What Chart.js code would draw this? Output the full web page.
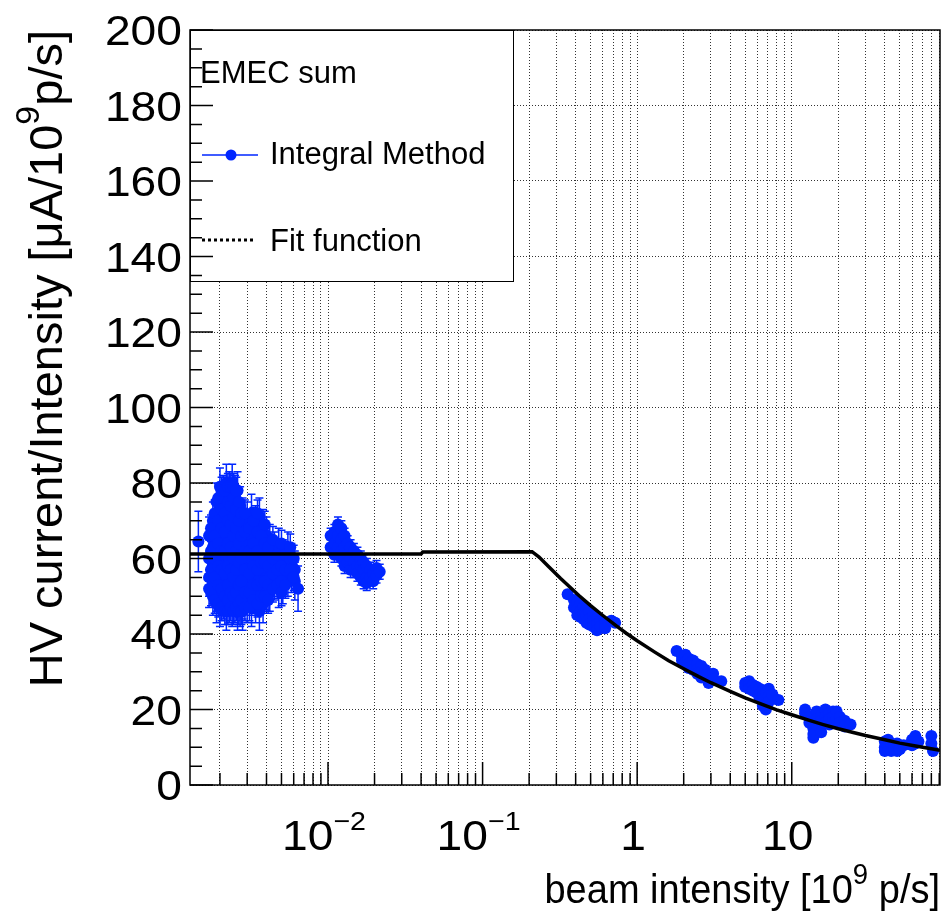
<!DOCTYPE html>
<html>
<head>
<meta charset="utf-8">
<script src="https://cdn.jsdelivr.net/npm/chart.js@4.4.1/dist/chart.umd.min.js"></script>
<style>
  html, body { margin: 0; padding: 0; background: #fff; }
  canvas { display: block; }
</style>
</head>
<body>
<canvas id="hvChart" width="946" height="918"></canvas>
<script>
// beam intensity [10^9 p/s] of each measurement (one line = one group of nearby points)
var beamX = [
  0.00145,
  0.0017, 0.0017, 0.0017, 0.0017,
  0.0018, 0.0018, 0.0018, 0.0018, 0.0018,
  0.0019, 0.0019, 0.0019, 0.0019, 0.0019, 0.0019,
  0.002, 0.002, 0.002, 0.002, 0.002, 0.002, 0.002,
  0.0021, 0.0021, 0.0021, 0.0021, 0.0021, 0.0021,
  0.0022, 0.0022, 0.0022, 0.0022, 0.0022, 0.0022, 0.0022,
  0.0023, 0.0023, 0.0023, 0.0023, 0.0023, 0.0023,
  0.0024, 0.0024, 0.0024, 0.0024, 0.0024, 0.0024, 0.0024,
  0.0025, 0.0025, 0.0025, 0.0025, 0.0025, 0.0025,
  0.0026, 0.0026, 0.0026, 0.0026, 0.0026, 0.0026, 0.0026,
  0.0027, 0.0027, 0.0027, 0.0027, 0.0027, 0.0027,
  0.0028, 0.0028, 0.0028, 0.0028, 0.0028, 0.0028,
  0.003, 0.003, 0.003, 0.003, 0.003,
  0.0032, 0.0032, 0.0032, 0.0032, 0.0032, 0.0032,
  0.0034, 0.0034, 0.0034, 0.0034, 0.0034,
  0.0036, 0.0036, 0.0036, 0.0036, 0.0036, 0.0036,
  0.0038, 0.0038, 0.0038, 0.0038, 0.0038,
  0.004, 0.004, 0.004, 0.004,
  0.0042, 0.0042, 0.0042, 0.0042,
  0.0045, 0.0045, 0.0045,
  0.0048, 0.0048, 0.0048, 0.0048,
  0.0051, 0.0051, 0.0051,
  0.0055, 0.0055, 0.0055,
  0.0058, 0.0058,
  0.0061, 0.0061,
  0.0064,
  0.0104, 0.0104,
  0.011, 0.011, 0.011,
  0.0116, 0.0116, 0.0116,
  0.0122, 0.0122, 0.0122, 0.0122,
  0.0128, 0.0128, 0.0128, 0.0128,
  0.0134, 0.0134, 0.0134,
  0.014, 0.014, 0.014, 0.014,
  0.0147, 0.0147, 0.0147,
  0.0155, 0.0155, 0.0155,
  0.0163, 0.0163, 0.0163,
  0.017, 0.017, 0.017,
  0.0178, 0.0178, 0.0178,
  0.0187, 0.0187,
  0.0196, 0.0196,
  0.0206, 0.0206,
  0.0216,
  0.355,
  0.39, 0.39,
  0.41, 0.41, 0.41,
  0.43, 0.43, 0.43,
  0.45, 0.45, 0.45,
  0.47, 0.47, 0.47,
  0.49, 0.49, 0.49,
  0.52, 0.52, 0.52,
  0.55, 0.55, 0.55,
  0.58, 0.58,
  0.62, 0.62,
  0.68,
  0.72,
  1.8,
  1.95, 1.95,
  2.05, 2.05,
  2.15, 2.15, 2.15,
  2.3, 2.3, 2.3,
  2.45, 2.45, 2.45,
  2.6, 2.6, 2.6,
  2.75, 2.75,
  2.9, 2.9,
  3.1, 3.1,
  3.5,
  5.0, 5.0,
  5.3, 5.3, 5.3,
  5.6, 5.6,
  5.9, 5.9,
  6.2, 6.2, 6.2,
  6.5, 6.5, 6.5,
  6.8, 6.8,
  7.1, 7.1, 7.1,
  7.5,
  8.2,
  12.2, 12.2,
  13, 13,
  13.8, 13.8, 13.8,
  14.5, 14.5, 14.5,
  15.5, 15.5, 15.5,
  16.5, 16.5, 16.5,
  17.5, 17.5, 17.5,
  18.5, 18.5, 18.5,
  19.5, 19.5,
  20.5, 20.5,
  22, 22,
  24,
  40, 40, 40,
  42, 42, 42,
  44, 44,
  46, 46,
  48, 48,
  50, 50,
  53,
  60, 60,
  63, 63,
  66,
  80, 80,
  82,
  // low-intensity runs, in between the columns above
  0.00175, 0.00175, 0.00175, 0.00175,
  0.00185, 0.00185, 0.00185, 0.00185, 0.00185,
  0.00195, 0.00195, 0.00195, 0.00195, 0.00195, 0.00195,
  0.00205, 0.00205, 0.00205, 0.00205, 0.00205, 0.00205, 0.00205,
  0.00215, 0.00215, 0.00215, 0.00215, 0.00215, 0.00215, 0.00215,
  0.00225, 0.00225, 0.00225, 0.00225, 0.00225, 0.00225, 0.00225, 0.00225,
  0.00235, 0.00235, 0.00235, 0.00235, 0.00235, 0.00235, 0.00235,
  0.00245, 0.00245, 0.00245, 0.00245, 0.00245, 0.00245, 0.00245, 0.00245,
  0.00255, 0.00255, 0.00255, 0.00255, 0.00255, 0.00255, 0.00255,
  0.00265, 0.00265, 0.00265, 0.00265, 0.00265, 0.00265, 0.00265,
  0.00275, 0.00275, 0.00275, 0.00275, 0.00275, 0.00275,
  0.0029, 0.0029, 0.0029, 0.0029, 0.0029, 0.0029,
  0.0031, 0.0031, 0.0031, 0.0031, 0.0031,
  0.0033, 0.0033, 0.0033, 0.0033, 0.0033,
  0.0035, 0.0035, 0.0035, 0.0035, 0.0035, 0.0035,
  0.0037, 0.0037, 0.0037, 0.0037,
  0.0039, 0.0039, 0.0039, 0.0039, 0.0039,
  0.0041, 0.0041, 0.0041, 0.0041,
  0.0044, 0.0044, 0.0044, 0.0044,
  0.0047, 0.0047, 0.0047,
  0.005, 0.005, 0.005, 0.005,
  0.0053, 0.0053, 0.0053,
  0.0057, 0.0057, 0.0057,
  0.006, 0.006
];

// HV current / intensity [uA / 10^9 p/s]
var hvY = [
  64.5,
  66, 60, 55, 52,
  70, 63, 58, 53, 50,
  75, 68, 62, 56, 51, 48,
  79, 72, 65, 60, 55, 50, 47,
  77, 70, 64, 58, 53, 49,
  80, 74, 67, 61, 56, 51, 46,
  78, 72, 66, 60, 54, 48,
  80, 75, 69, 63, 57, 52, 47,
  77, 71, 65, 59, 53, 48,
  78, 72, 66, 61, 55, 50, 46,
  74, 68, 62, 57, 51, 47,
  71, 66, 60, 55, 49, 46,
  70, 64, 58, 53, 48,
  72, 66, 60, 55, 50, 47,
  69, 63, 58, 52, 48,
  71, 65, 60, 55, 50, 46,
  68, 62, 57, 52, 48,
  66, 61, 56, 51,
  64, 60, 55, 51,
  62, 58, 54,
  63, 59, 55, 52,
  60, 56, 53,
  62, 58, 55,
  59, 56,
  57, 54,
  52,
  66, 63,
  67, 64, 61,
  69, 66, 63,
  68, 65, 62, 60,
  66, 63, 60, 58,
  64, 61, 59,
  63, 60, 58, 57,
  62, 59, 57,
  61, 58, 56,
  60, 58, 55,
  59, 57, 54,
  58, 55, 53.5,
  57, 55,
  56, 54,
  57.5, 55.5,
  56.5,
  50.5,
  49, 47,
  48.5, 46.5, 45,
  48, 46, 44.5,
  47, 45.5, 44,
  46.5, 45, 43,
  46, 44, 42.5,
  45, 43.5, 42,
  44, 42.5, 41,
  43.5, 42,
  43, 41.5,
  43.5,
  43,
  35.5,
  34, 33,
  34.5, 32.5,
  33.5, 32, 31,
  33, 31.5, 30.5,
  32, 30.5, 29.5,
  31.5, 30, 28.5,
  30.5, 29,
  28, 27,
  29.5, 28,
  27.5,
  27, 26,
  27.5, 26.5, 25.5,
  26.5, 25,
  26, 24.5,
  25.5, 24, 23,
  25, 23.5, 21,
  24.5, 20,
  25.5, 23.5, 22,
  24,
  22.5,
  20, 19,
  18, 16.5,
  15, 12.5, 13.5,
  19.5, 17.5, 16,
  18.5, 17, 14,
  20, 18, 16.5,
  19, 17.5, 16,
  19.5, 18, 16.5,
  19.5, 17.5,
  18, 16.5,
  17, 15.5,
  16,
  11.5, 10, 9,
  12, 10.5, 9.5,
  11, 9,
  10.5, 9.5,
  11, 9,
  10, 9.5,
  10.5,
  12, 10.5,
  13, 11,
  11.5,
  13, 11,
  9,
  // low-intensity runs, in between the columns above
  68, 62, 57, 51,
  72, 66, 60, 55, 49,
  76, 70, 64, 58, 53, 48,
  78, 73, 68, 62, 57, 52, 47,
  78, 72, 67, 62, 56, 50, 46,
  79, 75, 70, 64, 58, 53, 49, 46,
  79, 74, 69, 63, 57, 51, 47,
  79, 76, 71, 66, 60, 55, 50, 46,
  78, 73, 68, 62, 57, 51, 47,
  75, 70, 64, 59, 53, 48, 46,
  72, 66, 60, 54, 49, 46,
  72, 67, 62, 57, 51, 47,
  68, 62, 56, 51, 47,
  70, 64, 58, 53, 49,
  72, 67, 62, 57, 53, 48,
  66, 59, 54, 50,
  69, 64, 59, 54, 50,
  63, 58, 53, 49,
  65, 60, 56, 52,
  61, 57, 53,
  64, 58, 54, 51,
  61, 57, 53,
  63, 60, 57,
  60, 55
];

// vertical error of each point
var hvErr = [
  8,
  5, 5, 5, 5,
  5, 5, 5, 5, 5,
  5, 5, 5, 5, 5, 5,
  5, 5, 5, 5, 5, 5, 5,
  5, 5, 5, 5, 5, 5,
  5, 5, 5, 5, 5, 5, 5,
  5, 5, 5, 5, 5, 5,
  5, 5, 5, 5, 5, 5, 5,
  5, 5, 5, 5, 5, 5,
  5, 5, 5, 5, 5, 5, 5,
  5, 5, 5, 5, 5, 5,
  5, 5, 5, 5, 5, 5,
  5, 5, 5, 5, 5,
  5, 5, 5, 5, 5, 5,
  5, 5, 5, 5, 5,
  5, 5, 5, 5, 5, 5,
  5, 5, 5, 5, 5,
  5, 5, 5, 5,
  5, 5, 5, 5,
  5, 5, 5,
  5, 5, 5, 5,
  5, 5, 5,
  5, 5, 5,
  5, 5,
  5, 5,
  6,
  2, 2,
  2, 2, 2,
  2, 2, 2,
  2, 2, 2, 2,
  2, 2, 2, 2,
  2, 2, 2,
  2, 2, 2, 2,
  2, 2, 2,
  2, 2, 2,
  2, 2, 2,
  2, 2, 2,
  2, 2, 2,
  2, 2,
  2, 2,
  2, 2,
  2,
  1,
  1, 1,
  1, 1, 1,
  1, 1, 1,
  1, 1, 1,
  1, 1, 1,
  1, 1, 1,
  1, 1, 1,
  1, 1, 1,
  1, 1,
  1, 1,
  1,
  1,
  1,
  1, 1,
  1, 1,
  1, 1, 1,
  1, 1, 1,
  1, 1, 1,
  1, 1, 1,
  1, 1,
  1, 1,
  1, 1,
  1,
  1, 1,
  1, 1, 1,
  1, 1,
  1, 1,
  1, 1, 1,
  1, 1, 1,
  1, 1,
  1, 1, 1,
  1,
  1,
  1, 1,
  1, 1,
  1, 1, 1,
  1, 1, 1,
  1, 1, 1,
  1, 1, 1,
  1, 1, 1,
  1, 1, 1,
  1, 1,
  1, 1,
  1, 1,
  1,
  1, 1, 1,
  1, 1, 1,
  1, 1,
  1, 1,
  1, 1,
  1, 1,
  1,
  1, 1,
  1, 1,
  1,
  1, 1,
  1,
  // low-intensity runs, in between the columns above
  3.5, 3.5, 3.5, 3.5,
  3.5, 3.5, 3.5, 3.5, 3.5,
  3.5, 3.5, 3.5, 3.5, 3.5, 3.5,
  3.5, 3.5, 3.5, 3.5, 3.5, 3.5, 3.5,
  3.5, 3.5, 3.5, 3.5, 3.5, 3.5, 3.5,
  3.5, 3.5, 3.5, 3.5, 3.5, 3.5, 3.5, 3.5,
  3.5, 3.5, 3.5, 3.5, 3.5, 3.5, 3.5,
  3.5, 3.5, 3.5, 3.5, 3.5, 3.5, 3.5, 3.5,
  3.5, 3.5, 3.5, 3.5, 3.5, 3.5, 3.5,
  3.5, 3.5, 3.5, 3.5, 3.5, 3.5, 3.5,
  3.5, 3.5, 3.5, 3.5, 3.5, 3.5,
  3.5, 3.5, 3.5, 3.5, 3.5, 3.5,
  3.5, 3.5, 3.5, 3.5, 3.5,
  3.5, 3.5, 3.5, 3.5, 3.5,
  3.5, 3.5, 3.5, 3.5, 3.5, 3.5,
  3.5, 3.5, 3.5, 3.5,
  3.5, 3.5, 3.5, 3.5, 3.5,
  3.5, 3.5, 3.5, 3.5,
  3.5, 3.5, 3.5, 3.5,
  3.5, 3.5, 3.5,
  3.5, 3.5, 3.5, 3.5,
  3.5, 3.5, 3.5,
  3.5, 3.5, 3.5,
  3.5, 3.5
];

// fit function
var fitX = [0.00128, 0.04, 0.041, 0.209, 0.232, 0.27, 0.32, 0.42, 0.5, 0.6, 0.73, 0.85, 1.0,
            1.3, 1.6, 2.0, 2.5, 3.0, 4.0, 5.0, 6.5, 8.0, 10, 13, 16, 20, 25, 30, 40, 50, 62, 75, 91];
var fitY = [61.2, 61.2, 61.7, 61.8, 60.4, 57.7, 54.7, 50.2, 47.5, 44.9, 42.2, 40.2, 38.2,
            35.2, 32.9, 30.8, 28.7, 27.1, 24.8, 23.1, 21.3, 19.9, 18.6, 17.1, 16.0, 14.9, 13.9, 13.1, 12.0, 11.1, 10.4, 9.8, 9.2];

var xMin = 0.00128, xMax = 91;
var yMin = 0, yMax = 200;
var xDecades = [0.01, 0.1, 1, 10];
var xLabelBase = ['10', '10', '1', '10'];
var xLabelExp = ['\u22122', '\u22121', '', ''];
var legendLabels = ['EMEC sum', 'Integral Method', 'Fit function'];

var FONT = '"Liberation Sans", Arial, Helvetica, sans-serif';
var BLUE = '#0026ff';

Chart.defaults.font.family = FONT;
Chart.defaults.color = '#000';

// text with superscript pieces: parts = [{t: '...', sup: true/false}], sx = horizontal stretch
function richText(ctx, parts, x, y, size, align, sx, supScale) {
  sx = sx || 1;
  var supSize = Math.round(size * (supScale || 0.72));
  var widths = parts.map(function (p) {
    ctx.font = (p.sup ? supSize : size) + 'px ' + FONT;
    return ctx.measureText(p.t).width;
  });
  var total = widths.reduce(function (a, b) { return a + b; }, 0);
  var cx = align === 'right' ? -total : (align === 'center' ? -total / 2 : 0);
  ctx.save();
  ctx.translate(x, y);
  ctx.scale(sx, 1);
  ctx.textAlign = 'left';
  ctx.textBaseline = 'alphabetic';
  parts.forEach(function (p, i) {
    ctx.font = (p.sup ? supSize : size) + 'px ' + FONT;
    ctx.fillText(p.t, cx, p.sup ? -size * 0.48 : 0);
    cx += widths[i];
  });
  ctx.restore();
}

function isDecade(v) {
  var l = Math.log10(v);
  return Math.abs(l - Math.round(l)) < 1e-6;
}

var rootStyle = {
  id: 'rootStyle',
  beforeDatasetsDraw: function (chart) {
    var ctx = chart.ctx, xs = chart.scales.x, ys = chart.scales.y, a = chart.chartArea;
    ctx.save();
    ctx.beginPath();
    ctx.rect(a.left, a.top, a.right - a.left, a.bottom - a.top);
    ctx.clip();
    ctx.strokeStyle = BLUE;
    ctx.lineWidth = 1.5;
    for (var i = 0; i < beamX.length; i++) {
      var px = xs.getPixelForValue(beamX[i]);
      var lo = ys.getPixelForValue(hvY[i] - hvErr[i]);
      var hi = ys.getPixelForValue(hvY[i] + hvErr[i]);
      ctx.beginPath();
      ctx.moveTo(px, lo); ctx.lineTo(px, hi);
      ctx.moveTo(px - 4, lo); ctx.lineTo(px + 4, lo);
      ctx.moveTo(px - 4, hi); ctx.lineTo(px + 4, hi);
      ctx.stroke();
    }
    ctx.restore();
  },
  afterDraw: function (chart) {
    var ctx = chart.ctx, xs = chart.scales.x, ys = chart.scales.y, a = chart.chartArea;
    ctx.save();

    // legend box
    ctx.fillStyle = '#fff';
    ctx.fillRect(a.left, a.top, 323, 251);
    ctx.strokeStyle = '#000';
    ctx.lineWidth = 1;
    ctx.strokeRect(a.left + 0.5, a.top + 0.5, 323, 251);
    ctx.fillStyle = '#000';
    ctx.font = '31px ' + FONT;
    ctx.textAlign = 'left';
    ctx.textBaseline = 'alphabetic';
    ctx.fillText(legendLabels[0], 200, 83);
    ctx.fillText(legendLabels[1], 270, 164);
    ctx.fillText(legendLabels[2], 270, 251);
    ctx.strokeStyle = BLUE;
    ctx.lineWidth = 1.5;
    ctx.beginPath();
    ctx.moveTo(202, 155); ctx.lineTo(258, 155);
    ctx.stroke();
    ctx.fillStyle = BLUE;
    ctx.beginPath();
    ctx.arc(231, 155, 5.5, 0, Math.PI * 2);
    ctx.fill();
    ctx.strokeStyle = '#000';
    ctx.lineWidth = 3;
    ctx.setLineDash([3, 3]);
    ctx.beginPath();
    ctx.moveTo(202, 240); ctx.lineTo(256, 240);
    ctx.stroke();
    ctx.setLineDash([]);

    // frame
    ctx.strokeStyle = '#000';
    ctx.lineWidth = 1.5;
    ctx.strokeRect(a.left, a.top, a.right - a.left, a.bottom - a.top);

    // inward tick marks
    ctx.beginPath();
    xs.ticks.forEach(function (t) {
      var px = xs.getPixelForValue(t.value);
      var len = isDecade(t.value) ? 23 : 12;
      ctx.moveTo(px, a.bottom); ctx.lineTo(px, a.bottom - len);
    });
    for (var v = yMin; v <= yMax; v += 5) {
      var py = ys.getPixelForValue(v);
      var ylen = v % 20 === 0 ? 23 : 12;
      ctx.moveTo(a.left, py); ctx.lineTo(a.left + ylen, py);
    }
    ctx.stroke();

    // tick labels
    ctx.fillStyle = '#000';
    ys.ticks.forEach(function (t) {
      richText(ctx, [{t: String(t.value)}], 182, ys.getPixelForValue(t.value) + 15, 42, 'right', 1.1);
    });
    xDecades.forEach(function (d, i) {
      var px = xs.getPixelForValue(d);
      var parts = [{t: xLabelBase[i]}];
      if (xLabelExp[i]) parts.push({t: xLabelExp[i], sup: true});
      richText(ctx, parts, px - 4, 850, 42, 'center', 1.1, 0.62);
    });

    // axis titles
    richText(ctx, [{t: 'beam intensity [10'}, {t: '9', sup: true}, {t: ' p/s]'}], 940, 903, 40, 'right', 0.95);
    ctx.save();
    ctx.translate(62, 30);
    ctx.rotate(-Math.PI / 2);
    richText(ctx, [{t: 'HV current/Intensity [\u03bcA/10'}, {t: '9', sup: true}, {t: 'p/s]'}], 0, 0, 47, 'right');
    ctx.restore();

    ctx.restore();
  }
};

var pointsData = beamX.map(function (x, i) { return {x: x, y: hvY[i]}; });
var fitData = fitX.map(function (x, i) { return {x: x, y: fitY[i]}; });

var gridDots = { color: 'rgba(0,0,0,0.8)', lineWidth: 1, drawTicks: false };

var hvChart = new Chart(document.getElementById('hvChart'), {
  type: 'scatter',
  data: {
    datasets: [
      {
        type: 'line',
        label: legendLabels[2],
        data: fitData,
        borderColor: '#000',
        borderWidth: 3.5,
        pointRadius: 0,
        tension: 0,
        fill: false
      },
      {
        label: legendLabels[1],
        data: pointsData,
        backgroundColor: BLUE,
        borderColor: BLUE,
        pointRadius: 6,
        pointBorderWidth: 0,
        pointHoverRadius: 6
      }
    ]
  },
  options: {
    responsive: false,
    animation: false,
    devicePixelRatio: 1,
    layout: { padding: { top: 30, right: 4, left: 0, bottom: 0 } },
    plugins: {
      legend: { display: false },
      tooltip: { enabled: false }
    },
    scales: {
      x: {
        type: 'logarithmic',
        min: xMin,
        max: xMax,
        grid: gridDots,
        border: { display: false, dash: [1, 2] },
        ticks: { display: false },
        afterBuildTicks: function (scale) {
          var ticks = [];
          for (var e = -3; e <= 1; e++) {
            for (var m = 1; m <= 9; m++) {
              var v = Math.round(m * Math.pow(10, e) * 1e6) / 1e6;
              if (v > xMin && v < xMax) ticks.push({ value: v, major: m === 1 });
            }
          }
          scale.ticks = ticks;
        },
        afterFit: function (scale) { scale.height = 133; }
      },
      y: {
        min: yMin,
        max: yMax,
        grid: gridDots,
        border: { display: false, dash: [1, 2] },
        ticks: { stepSize: 20, display: false },
        afterFit: function (scale) { scale.width = 190; }
      }
    }
  },
  plugins: [rootStyle]
});
</script>
</body>
</html>
